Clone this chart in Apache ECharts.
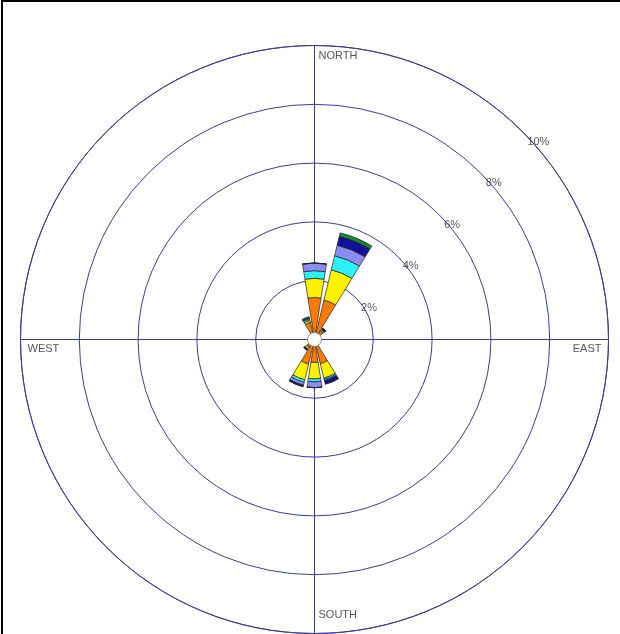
<!DOCTYPE html>
<html>
<head>
<meta charset="utf-8">
<script src="https://cdn.jsdelivr.net/npm/echarts@6/dist/echarts.min.js"></script>
<style>
html,body{margin:0;padding:0;background:#fff;}
#frame{position:absolute;left:1px;top:0;width:619px;height:634px;border-left:2px solid #000;border-top:2px solid #000;box-sizing:border-box;}
#chart{position:absolute;left:0;top:0;width:620px;height:634px;}
</style>
</head>
<body>
<div id="chart"></div>
<div id="frame"></div>
<script>
// Wind directions (16 sectors)
const directions = ['N','NNE','NE','ENE','E','ESE','SE','SSE','S','SSW','SW','WSW','W','WNW','NW','NNW'];
// Speed class names (inner to outer)
const speedClasses = ['Class 1','Class 2','Class 3','Class 4','Class 5','Class 6'];
// Frequency (%) per speed class, per direction (stacked increments)
const class1 = [1.43, 1.38, 0.34, 0, 0, 0, 0, 0.85, 0.78, 0.86, 0.33, 0, 0, 0, 0, 0.60];
const class2 = [0.65, 1.06, 0.04, 0, 0, 0, 0, 0.50, 0.56, 0.55, 0.06, 0, 0, 0, 0, 0.07];
const class3 = [0.26, 0.49, 0.03, 0, 0, 0, 0, 0.05, 0.10, 0.09, 0.02, 0, 0, 0, 0, 0.05];
const class4 = [0.26, 0.37, 0.03, 0, 0, 0, 0, 0.04, 0.20, 0.10, 0.02, 0, 0, 0, 0, 0.03];
const class5 = [0,    0.31, 0.04, 0, 0, 0, 0, 0.12, 0,    0.05, 0.02, 0, 0, 0, 0, 0.02];
const class6 = [0,    0.12, 0,    0, 0, 0, 0, 0,    0,    0,    0,    0, 0, 0, 0, 0.03];
// Ring values and labels
const ringValues = [2, 4, 6, 8, 10];
const ringLabels = ['2%', '4%', '6%', '8%', '10%'];
// Compass labels and their angles
const compassLabels = ['NORTH', 'EAST', 'SOUTH', 'WEST'];
const compassAngles = [0, 90, 180, 270];
const calmValue = [0];

const colors = ['#f97a06', '#fbf200', '#2ef0f8', '#8a8cf2', '#10109a', '#148c32'];
const classData = [class1, class2, class3, class4, class5, class6];

const chart = echarts.init(document.getElementById('chart'), null, {renderer: 'canvas'});
const lineColor = '#3c3c96';
const font = '"Liberation Sans", Arial, sans-serif';

const compassLayout = {
  NORTH: {align: 'left', offset: [4, 10]},
  EAST: {align: 'right', offset: [-7, 9]},
  SOUTH: {align: 'left', offset: [4, -19]},
  WEST: {align: 'left', offset: [7, 9]}
};

const series = classData.map((d, i) => ({
  type: 'bar',
  name: speedClasses[i],
  coordinateSystem: 'polar',
  polarIndex: 0,
  stack: 'wind',
  data: d,
  barWidth: '80%',
  itemStyle: {color: colors[i], borderColor: '#222', borderWidth: 0.7},
  z: 3,
  animation: false
}));

series.push({
  type: 'scatter',
  coordinateSystem: 'polar',
  polarIndex: 1,
  symbolSize: 1,
  itemStyle: {color: 'rgba(0,0,0,0)'},
  data: ringValues.map((v, i) => ({value: [v, 45], name: ringLabels[i]})),
  label: {
    show: true, position: 'inside', align: 'left', verticalAlign: 'middle',
    offset: [5, 10], formatter: p => p.name,
    color: '#2a2a2a', fontSize: 11, fontFamily: font
  },
  z: 5, silent: true, animation: false
});

series.push({
  type: 'scatter',
  coordinateSystem: 'polar',
  polarIndex: 1,
  symbolSize: 1,
  itemStyle: {color: 'rgba(0,0,0,0)'},
  data: compassLabels.map((n, i) => ({
    value: [10, compassAngles[i]], name: n,
    label: {align: compassLayout[n].align, offset: compassLayout[n].offset}
  })),
  label: {
    show: true, position: 'inside', verticalAlign: 'middle',
    formatter: p => p.name, color: '#2a2a2a', fontSize: 11, fontFamily: font
  },
  z: 5, silent: true, animation: false
});

series.push({
  type: 'scatter',
  coordinateSystem: 'polar',
  polarIndex: 1,
  symbol: 'circle',
  symbolSize: 14,
  data: calmValue.map(v => [v, 0]),
  itemStyle: {color: '#ffffff', opacity: 1, borderColor: '#777', borderWidth: 0.8},
  z: 6, silent: true, animation: false
});

chart.setOption({
  animation: false,
  backgroundColor: '#fff',
  polar: [
    {center: [314.5, 339.5], radius: 294},
    {center: [314.5, 339.5], radius: 294}
  ],
  angleAxis: [
    {
      polarIndex: 0, type: 'category', data: directions, startAngle: 101.25, clockwise: true,
      axisLine: {show: false}, axisTick: {show: false}, axisLabel: {show: false}, splitLine: {show: false}
    },
    {
      polarIndex: 1, type: 'value', min: 0, max: 360, interval: 90, startAngle: 90, clockwise: true,
      axisLine: {show: true, lineStyle: {color: lineColor, width: 1}},
      axisTick: {show: false}, axisLabel: {show: false},
      splitLine: {show: true, lineStyle: {color: lineColor, width: 1}}
    }
  ],
  radiusAxis: [
    {
      polarIndex: 0, type: 'value', min: 0, max: 10,
      axisLine: {show: false}, axisTick: {show: false}, axisLabel: {show: false}, splitLine: {show: false}
    },
    {
      polarIndex: 1, type: 'value', min: 0, max: 10, interval: 2,
      axisLine: {show: false}, axisTick: {show: false}, axisLabel: {show: false},
      splitLine: {show: true, lineStyle: {color: lineColor, width: 1}}
    }
  ],
  series: series
});
</script>
</body>
</html>
